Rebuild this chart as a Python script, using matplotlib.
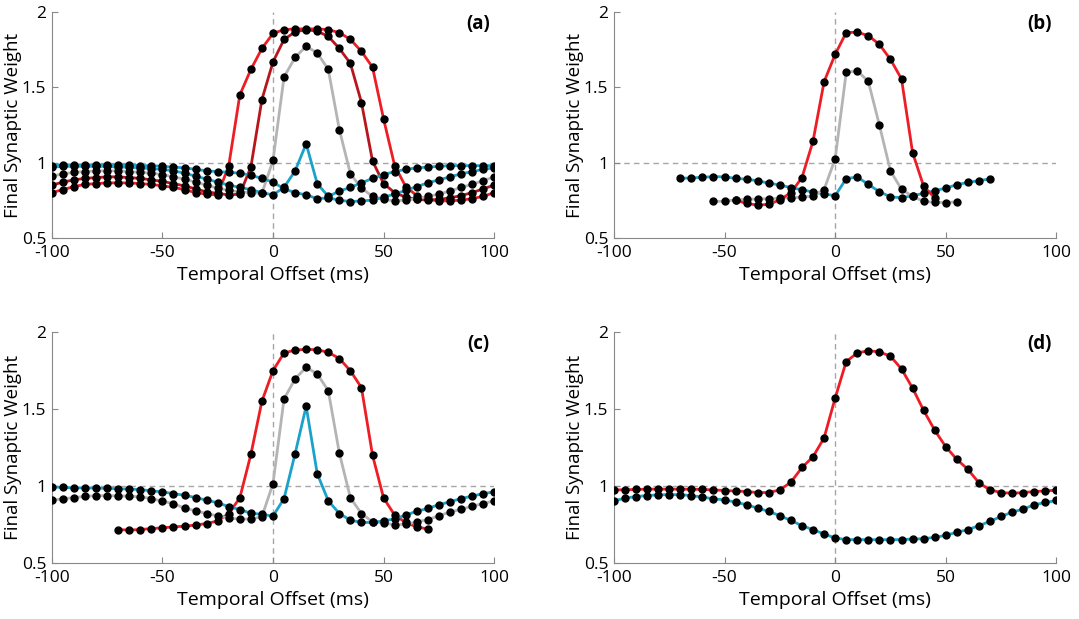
import matplotlib.pyplot as plt

plt.rcParams['font.family'] = ['Open Sans', 'DejaVu Sans']
plt.rcParams['axes.unicode_minus'] = False

# temporal offsets (ms)
t_full = [-100, -95, -90, -85, -80, -75, -70, -65, -60, -55, -50, -45, -40, -35, -30, -25, -20,
          -15, -10, -5, 0, 5, 10, 15, 20, 25, 30, 35, 40, 45, 50, 55, 60, 65, 70, 75, 80, 85, 90, 95, 100]
t_70 = [-70, -65, -60, -55, -50, -45, -40, -35, -30, -25, -20, -15, -10, -5, 0,
        5, 10, 15, 20, 25, 30, 35, 40, 45, 50, 55, 60, 65, 70]
t_55 = [-55, -50, -45, -40, -35, -30, -25, -20, -15, -10, -5, 0, 5, 10, 15, 20, 25, 30, 35, 40, 45, 50, 55]
t_45 = [-45, -40, -35, -30, -25, -20, -15, -10, -5, 0, 5, 10, 15, 20, 25, 30, 35, 40, 45]

# panel (a)
a_red = [0.80, 0.82, 0.84, 0.855, 0.86, 0.865, 0.865, 0.865, 0.86, 0.855, 0.845, 0.835, 0.82, 0.80,
         0.79, 0.785, 0.98, 1.45, 1.62, 1.76, 1.86, 1.885, 1.89, 1.89, 1.89, 1.885, 1.865, 1.82, 1.74,
         1.635, 1.29, 0.98, 0.84, 0.78, 0.755, 0.745, 0.745, 0.75, 0.76, 0.775, 0.80]
a_dark_red = [0.85, 0.87, 0.885, 0.895, 0.90, 0.905, 0.905, 0.90, 0.895, 0.885, 0.875, 0.86, 0.845,
              0.825, 0.805, 0.795, 0.785, 0.79, 0.97, 1.42, 1.67, 1.82, 1.87, 1.885, 1.875, 1.84, 1.76,
              1.66, 1.40, 1.01, 0.86, 0.80, 0.77, 0.755, 0.75, 0.755, 0.765, 0.78, 0.80, 0.825, 0.85]
a_gray = [0.91, 0.925, 0.935, 0.94, 0.945, 0.945, 0.945, 0.94, 0.935, 0.93, 0.92, 0.905, 0.89, 0.87,
          0.85, 0.83, 0.815, 0.805, 0.80, 0.795, 1.015, 1.57, 1.70, 1.775, 1.73, 1.62, 1.22, 0.925,
          0.83, 0.775, 0.755, 0.745, 0.75, 0.76, 0.775, 0.79, 0.81, 0.835, 0.855, 0.88, 0.905]
a_blue_flat = [0.98, 0.985, 0.985, 0.985, 0.985, 0.985, 0.985, 0.985, 0.98, 0.98, 0.975, 0.97, 0.965,
               0.955, 0.945, 0.94, 0.935, 0.93, 0.915, 0.895, 0.87, 0.825, 0.80, 0.785, 0.76, 0.765,
               0.75, 0.74, 0.745, 0.75, 0.77, 0.79, 0.815, 0.84, 0.865, 0.885, 0.905, 0.925, 0.94,
               0.955, 0.965]
a_blue = [0.97, 0.975, 0.975, 0.975, 0.975, 0.975, 0.97, 0.97, 0.965, 0.96, 0.955, 0.945, 0.93, 0.91,
          0.89, 0.87, 0.85, 0.835, 0.82, 0.80, 0.785, 0.835, 0.945, 1.125, 0.86, 0.775, 0.81, 0.835,
          0.865, 0.895, 0.92, 0.94, 0.955, 0.965, 0.97, 0.975, 0.98, 0.98, 0.98, 0.98, 0.98]

# panel (b)
b_blue = [0.895, 0.898, 0.902, 0.907, 0.905, 0.895, 0.889, 0.879, 0.863, 0.851, 0.833, 0.82, 0.803,
          0.792, 0.779, 0.893, 0.904, 0.855, 0.806, 0.772, 0.766, 0.78, 0.795, 0.813, 0.83, 0.853,
          0.868, 0.88, 0.891]
b_gray = [0.741, 0.743, 0.752, 0.755, 0.758, 0.76, 0.762, 0.766, 0.77, 0.778, 0.82, 1.025, 1.60,
          1.612, 1.54, 1.25, 0.945, 0.822, 0.775, 0.742, 0.735, 0.734, 0.739]
b_red = [0.75, 0.728, 0.717, 0.722, 0.752, 0.80, 0.90, 1.143, 1.538, 1.72, 1.866, 1.868, 1.845,
         1.787, 1.687, 1.557, 1.067, 0.843, 0.765]

# panel (c)
c_red = [0.716, 0.712, 0.716, 0.722, 0.727, 0.733, 0.738, 0.745, 0.755, 0.772, 0.82, 0.922, 1.205,
         1.552, 1.751, 1.866, 1.885, 1.89, 1.887, 1.87, 1.83, 1.75, 1.64, 1.20, 0.922, 0.81, 0.762,
         0.733, 0.719]
c_gray = [0.907, 0.916, 0.924, 0.932, 0.937, 0.937, 0.935, 0.933, 0.929, 0.918, 0.90, 0.885, 0.855,
          0.838, 0.82, 0.805, 0.79, 0.785, 0.784, 0.80, 1.015, 1.567, 1.697, 1.773, 1.73, 1.62, 1.214,
          0.922, 0.82, 0.766, 0.758, 0.748, 0.75, 0.765, 0.781, 0.805, 0.83, 0.847, 0.868, 0.885, 0.903]
c_blue = [0.994, 0.99, 0.988, 0.987, 0.986, 0.984, 0.982, 0.979, 0.976, 0.968, 0.961, 0.95, 0.939,
          0.924, 0.907, 0.89, 0.865, 0.846, 0.822, 0.815, 0.803, 0.918, 1.21, 1.519, 1.08, 0.903,
          0.82, 0.777, 0.762, 0.762, 0.773, 0.785, 0.81, 0.835, 0.853, 0.878, 0.896, 0.918, 0.933,
          0.95, 0.961]

# panel (d)
d_red = [0.974, 0.975, 0.977, 0.979, 0.979, 0.979, 0.979, 0.978, 0.977, 0.974, 0.970, 0.967, 0.963,
         0.957, 0.957, 0.974, 1.024, 1.12, 1.19, 1.313, 1.572, 1.81, 1.866, 1.881, 1.873, 1.845,
         1.762, 1.637, 1.492, 1.363, 1.255, 1.173, 1.108, 1.02, 0.974, 0.957, 0.952, 0.957, 0.963,
         0.968, 0.972]
d_blue = [0.903, 0.92, 0.931, 0.937, 0.942, 0.943, 0.943, 0.937, 0.927, 0.916, 0.909, 0.894, 0.877,
          0.855, 0.834, 0.806, 0.775, 0.741, 0.715, 0.687, 0.661, 0.65, 0.65, 0.65, 0.65, 0.65, 0.65,
          0.654, 0.656, 0.665, 0.678, 0.698, 0.715, 0.741, 0.769, 0.801, 0.829, 0.849, 0.877, 0.892,
          0.905]

RED = '#ee1d25'
DARK_RED = '#b8161d'
GRAY = '#b4b4b4'
BLUE = '#1aa2cb'

panels = [
    ('(a)', [0.048, 0.616, 0.41, 0.364],
     [(t_full, a_red, RED), (t_full, a_dark_red, DARK_RED), (t_full, a_gray, GRAY),
      (t_full, a_blue_flat, BLUE), (t_full, a_blue, BLUE)]),
    ('(b)', [0.569, 0.616, 0.41, 0.364],
     [(t_70, b_blue, BLUE), (t_55, b_gray, GRAY), (t_45, b_red, RED)]),
    ('(c)', [0.048, 0.091, 0.41, 0.372],
     [(t_70, c_red, RED), (t_full, c_gray, GRAY), (t_full, c_blue, BLUE)]),
    ('(d)', [0.569, 0.091, 0.41, 0.372],
     [(t_full, d_red, RED), (t_full, d_blue, BLUE)]),
]

fig = plt.figure(figsize=(10.79, 6.19), dpi=100)

for letter, rect, curves in panels:
    ax = fig.add_axes(rect)
    h_px = rect[3] * 619
    ax.axhline(1, color='#a6a6a6', lw=1, ls=(0, (4, 3)), zorder=0)
    ax.axvline(0, color='#a6a6a6', lw=1, ls=(0, (4, 3)), zorder=0)
    for x, y, c in curves:
        ax.plot(x, y, color=c, lw=2, zorder=2)
    for x, y, c in curves:
        ax.plot(x, y, 'o', color='black', ms=5, zorder=3)
    ax.set_xlim(-100, 100)
    ax.set_ylim(0.5, 2)
    ax.set_xticks([-100, -50, 0, 50, 100])
    ax.set_yticks([0.5, 1, 1.5, 2])
    ax.set_yticklabels(['0.5', '1', '1.5', '2'])
    for s in ['top', 'right']:
        ax.spines[s].set_visible(False)
    for s in ['left', 'bottom']:
        ax.spines[s].set_color('#888888')
        ax.spines[s].set_linewidth(0.8)
    ax.tick_params(direction='in', length=4, color='#888888', labelsize=12.5)
    ax.tick_params(axis='x', pad=5)
    ax.tick_params(axis='y', pad=4)
    ax.set_xlabel('Temporal Offset (ms)', fontsize=14)
    ax.set_ylabel('Final Synaptic Weight', fontsize=13.5)
    ax.xaxis.set_label_coords(0.5, -28 / h_px)
    ax.yaxis.set_label_coords(-0.068, 0.5)
    ax.text(98, 1.99, letter, ha='right', va='top', fontsize=13.5, fontweight='bold')

fig.savefig('out.png', dpi=100)
